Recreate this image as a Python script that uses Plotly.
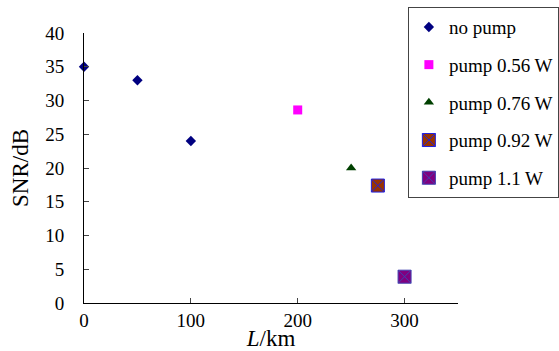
import plotly.graph_objects as go

no_pump_x = [0, 50, 100]
no_pump_y = [35, 33, 24]
p056_x = [200]
p056_y = [28.6]
p076_x = [250]
p076_y = [20]
p092_x = [275]
p092_y = [17.4]
p11_x = [300]
p11_y = [3.9]

x_ticks = [0, 100, 200, 300]
y_ticks = [0, 5, 10, 15, 20, 25, 30, 35, 40]

font = "Liberation Serif, Times New Roman, serif"

fig = go.Figure()
series = [
    ("no pump", no_pump_x, no_pump_y, dict(symbol="diamond", size=8, color="#000080")),
    ("pump 0.56 W", p056_x, p056_y, dict(symbol="square", size=9, color="#FF00FF")),
    ("pump 0.76 W", p076_x, p076_y, dict(symbol="triangle-up", size=9, color="#004000")),
    ("pump 0.92 W", p092_x, p092_y, dict(symbol="square-x", size=13, color="#993300",
                                          line=dict(color="#2020E0", width=1))),
    ("pump 1.1 W", p11_x, p11_y, dict(symbol="square-x", size=13, color="#800080",
                                       line=dict(color="#4040B0", width=1))),
]
for i, (name, xs, ys, mk) in enumerate(series):
    fig.add_trace(go.Scatter(x=xs, y=ys, mode="markers", name=name, marker=mk,
                             legendgroup=f"g{i}", cliponaxis=False))

fig.update_layout(
    width=559, height=351,
    margin=dict(l=84, r=101, t=33, b=48, autoexpand=False),
    paper_bgcolor="white", plot_bgcolor="white",
    font=dict(family=font, size=19, color="black"),
    legend=dict(x=0.866, y=1.096, xanchor="left", yanchor="top",
                bordercolor="#444", borderwidth=1, tracegroupgap=10,
                font=dict(family=font, size=19), itemwidth=30,
                traceorder="grouped", maxheight=300),
    xaxis=dict(range=[0, 350], tickvals=x_ticks, ticks="inside", ticklen=5,
               showline=True, linecolor="black", linewidth=1, showgrid=False,
               zeroline=False, title=dict(text="<i>L</i>/km", standoff=0),
               tickfont=dict(size=19), ticklabelstandoff=0, automargin=False),
    yaxis=dict(range=[0, 40], tickvals=y_ticks, ticks="inside", ticklen=5,
               showline=True, linecolor="black", linewidth=1, showgrid=False,
               zeroline=False, title=dict(text="SNR/dB", standoff=10),
               tickfont=dict(size=19), ticklabelstandoff=15, automargin=False),
)
fig.write_html("out.html")
